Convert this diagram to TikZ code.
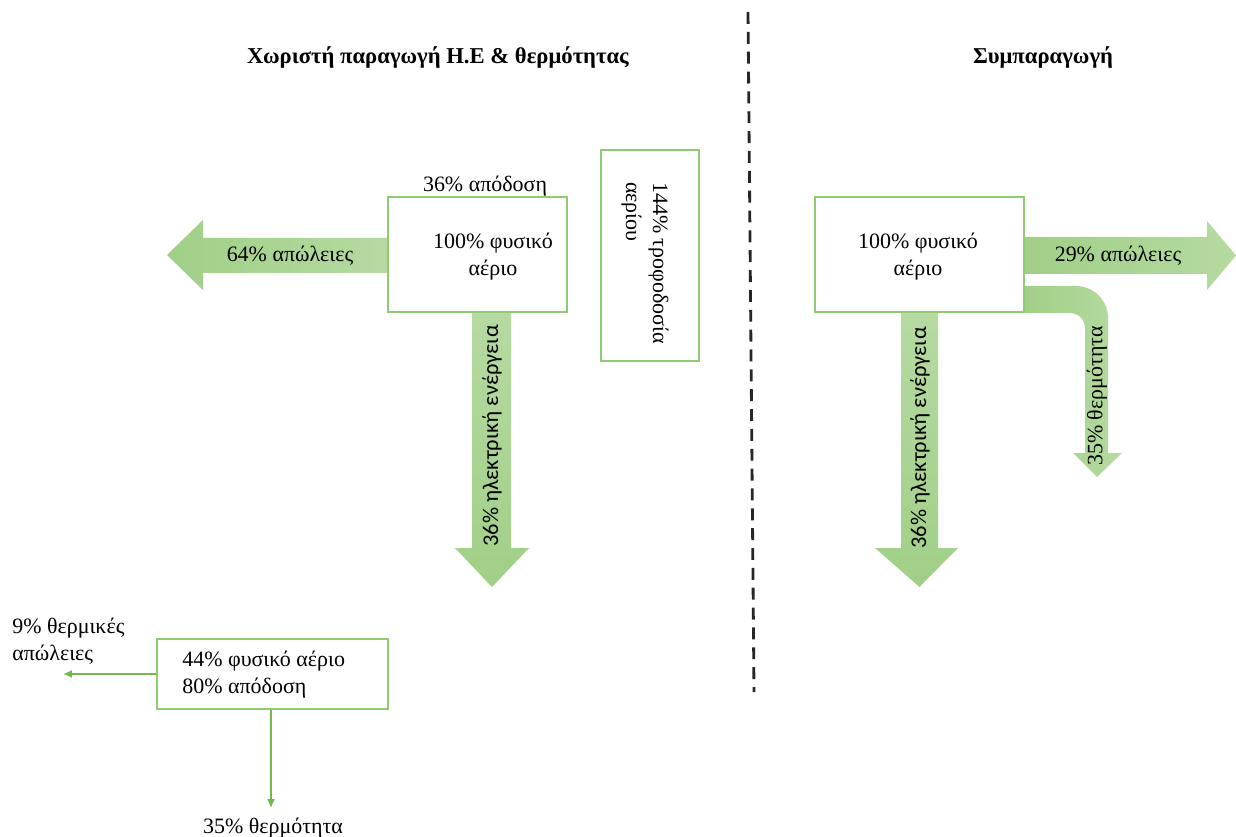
\documentclass[tikz,border=0pt]{standalone}
\usepackage{fontspec}
\setmainfont{Liberation Serif}
\newfontfamily\calib{Carlito}
\usetikzlibrary{arrows.meta}
\definecolor{gline}{HTML}{8FCB73}
\definecolor{gthin}{HTML}{72B84E}
\definecolor{glight}{HTML}{B6DAA1}
\definecolor{gdark}{HTML}{A0CF87}
\tikzset{
  txt/.style={font=\fontsize{12.5}{15.3}\selectfont, inner sep=0pt, align=center},
  ctxt/.style={font=\calib\fontsize{12.8}{15}\selectfont, inner sep=0pt},
  ttl/.style={font=\bfseries\fontsize{12.9}{15}\selectfont, inner sep=0pt},
  gbox/.style={draw=gline, line width=0.8pt, fill=white},
  thinarrow/.style={draw=gthin, line width=0.9pt, -{Latex[length=5pt,width=4.5pt]}},
}
\begin{document}
\begin{tikzpicture}[x=0.02cm,y=-0.02cm]
\useasboundingbox (0,0) rectangle (1236,837);
% titles
\node[ttl] (t1) at (438,57) {Χωριστή παραγωγή Η.Ε \& θερμότητας};
\node[ttl] (t2) at (1043,57) {Συμπαραγωγή};
% dashed divider
\coordinate (d1) at (748,12);
\coordinate (d2) at (754,692);
\draw[line width=1.6pt, dash pattern=on 6.8pt off 4.5pt, black!85] (d1) -- (d2);

% ---- left: separate production ----
% left arrow 64%
\shade[left color=gdark, right color=glight]
  (388,238) -- (203,238) -- (203,220) -- (167,255) -- (203,290) -- (203,273) -- (388,273) -- cycle;
\node[txt] (l64) at (290,256) {64\% απώλειες};
% down arrow 36% electricity
\shade[top color=glight, bottom color=gdark]
  (472,312) -- (472,548) -- (455,548) -- (492,587) -- (529,548) -- (511,548) -- (511,312) -- cycle;
\node[ctxt, rotate=90] (lel) at (492,436) {36\% ηλεκτρική ενέργεια};
% main box
\node[gbox, minimum width=179*0.02cm, minimum height=115*0.02cm, inner sep=0pt] (boxA) at (477.5,254.5) {};
\node[txt] (boxAt) at (493,257) {100\% φυσικό\\αέριο};
\node[txt] (eff36) at (485,186) {36\% απόδοση};
% feed box
\node[gbox, minimum width=98*0.02cm, minimum height=211*0.02cm, inner sep=0pt] (boxB) at (650,255.5) {};
\node[txt, rotate=-90, align=left] (boxBt) at (645,263) {144\% τροφοδοσία\\αερίου};

% bottom-left boiler
\node[gbox, minimum width=231*0.02cm, minimum height=70*0.02cm, inner sep=0pt] (boxD) at (272.5,674) {};
\node[txt, align=left, anchor=west] (boxDt) at (182,674.5) {44\% φυσικό αέριο\\80\% απόδοση};
\coordinate (lossend) at (63,674);
\draw[thinarrow] (boxD.west) -- (lossend);
\node[txt, align=left, anchor=west] (l9) at (12,641) {9\% θερμικές\\απώλειες};
\node[txt] (h35b) at (273,828) {35\% θερμότητα};
\coordinate (heatend) at (271,808);
\draw[thinarrow] (boxD.south -| heatend) -- (heatend);

% ---- right: cogeneration ----
% right arrow 29%
\shade[left color=gdark, right color=glight]
  (1024,237) -- (1207,237) -- (1207,221) -- (1236,255.5) -- (1207,290) -- (1207,274) -- (1024,274) -- cycle;
\node[txt] (r29) at (1118,256) {29\% απώλειες};
% curved arrow 35% heat
\shade[left color=gdark, right color=glight]
  (1024,286) -- (1076,286) arc[start angle=-90, end angle=0, radius=32] -- (1108,453) -- (1122,453)
  -- (1097,477) -- (1073,453) -- (1085,453) -- (1085,328)
  arc[start angle=0, end angle=-90, radius=15] -- (1024,313) -- cycle;
\node[txt, rotate=90] (r35) at (1097,396) {35\% θερμότητα};
% down arrow 36% electricity
\shade[top color=glight, bottom color=gdark]
  (901,312) -- (901,548) -- (875,548) -- (919.5,587) -- (958,548) -- (938,548) -- (938,312) -- cycle;
\node[ctxt, rotate=90] (rel) at (920,438) {36\% ηλεκτρική ενέργεια};
% main box
\node[gbox, minimum width=209*0.02cm, minimum height=115*0.02cm, inner sep=0pt] (boxC) at (919.5,254.5) {};
\node[txt] (boxCt) at (918,257) {100\% φυσικό\\αέριο};
\end{tikzpicture}
\end{document}
